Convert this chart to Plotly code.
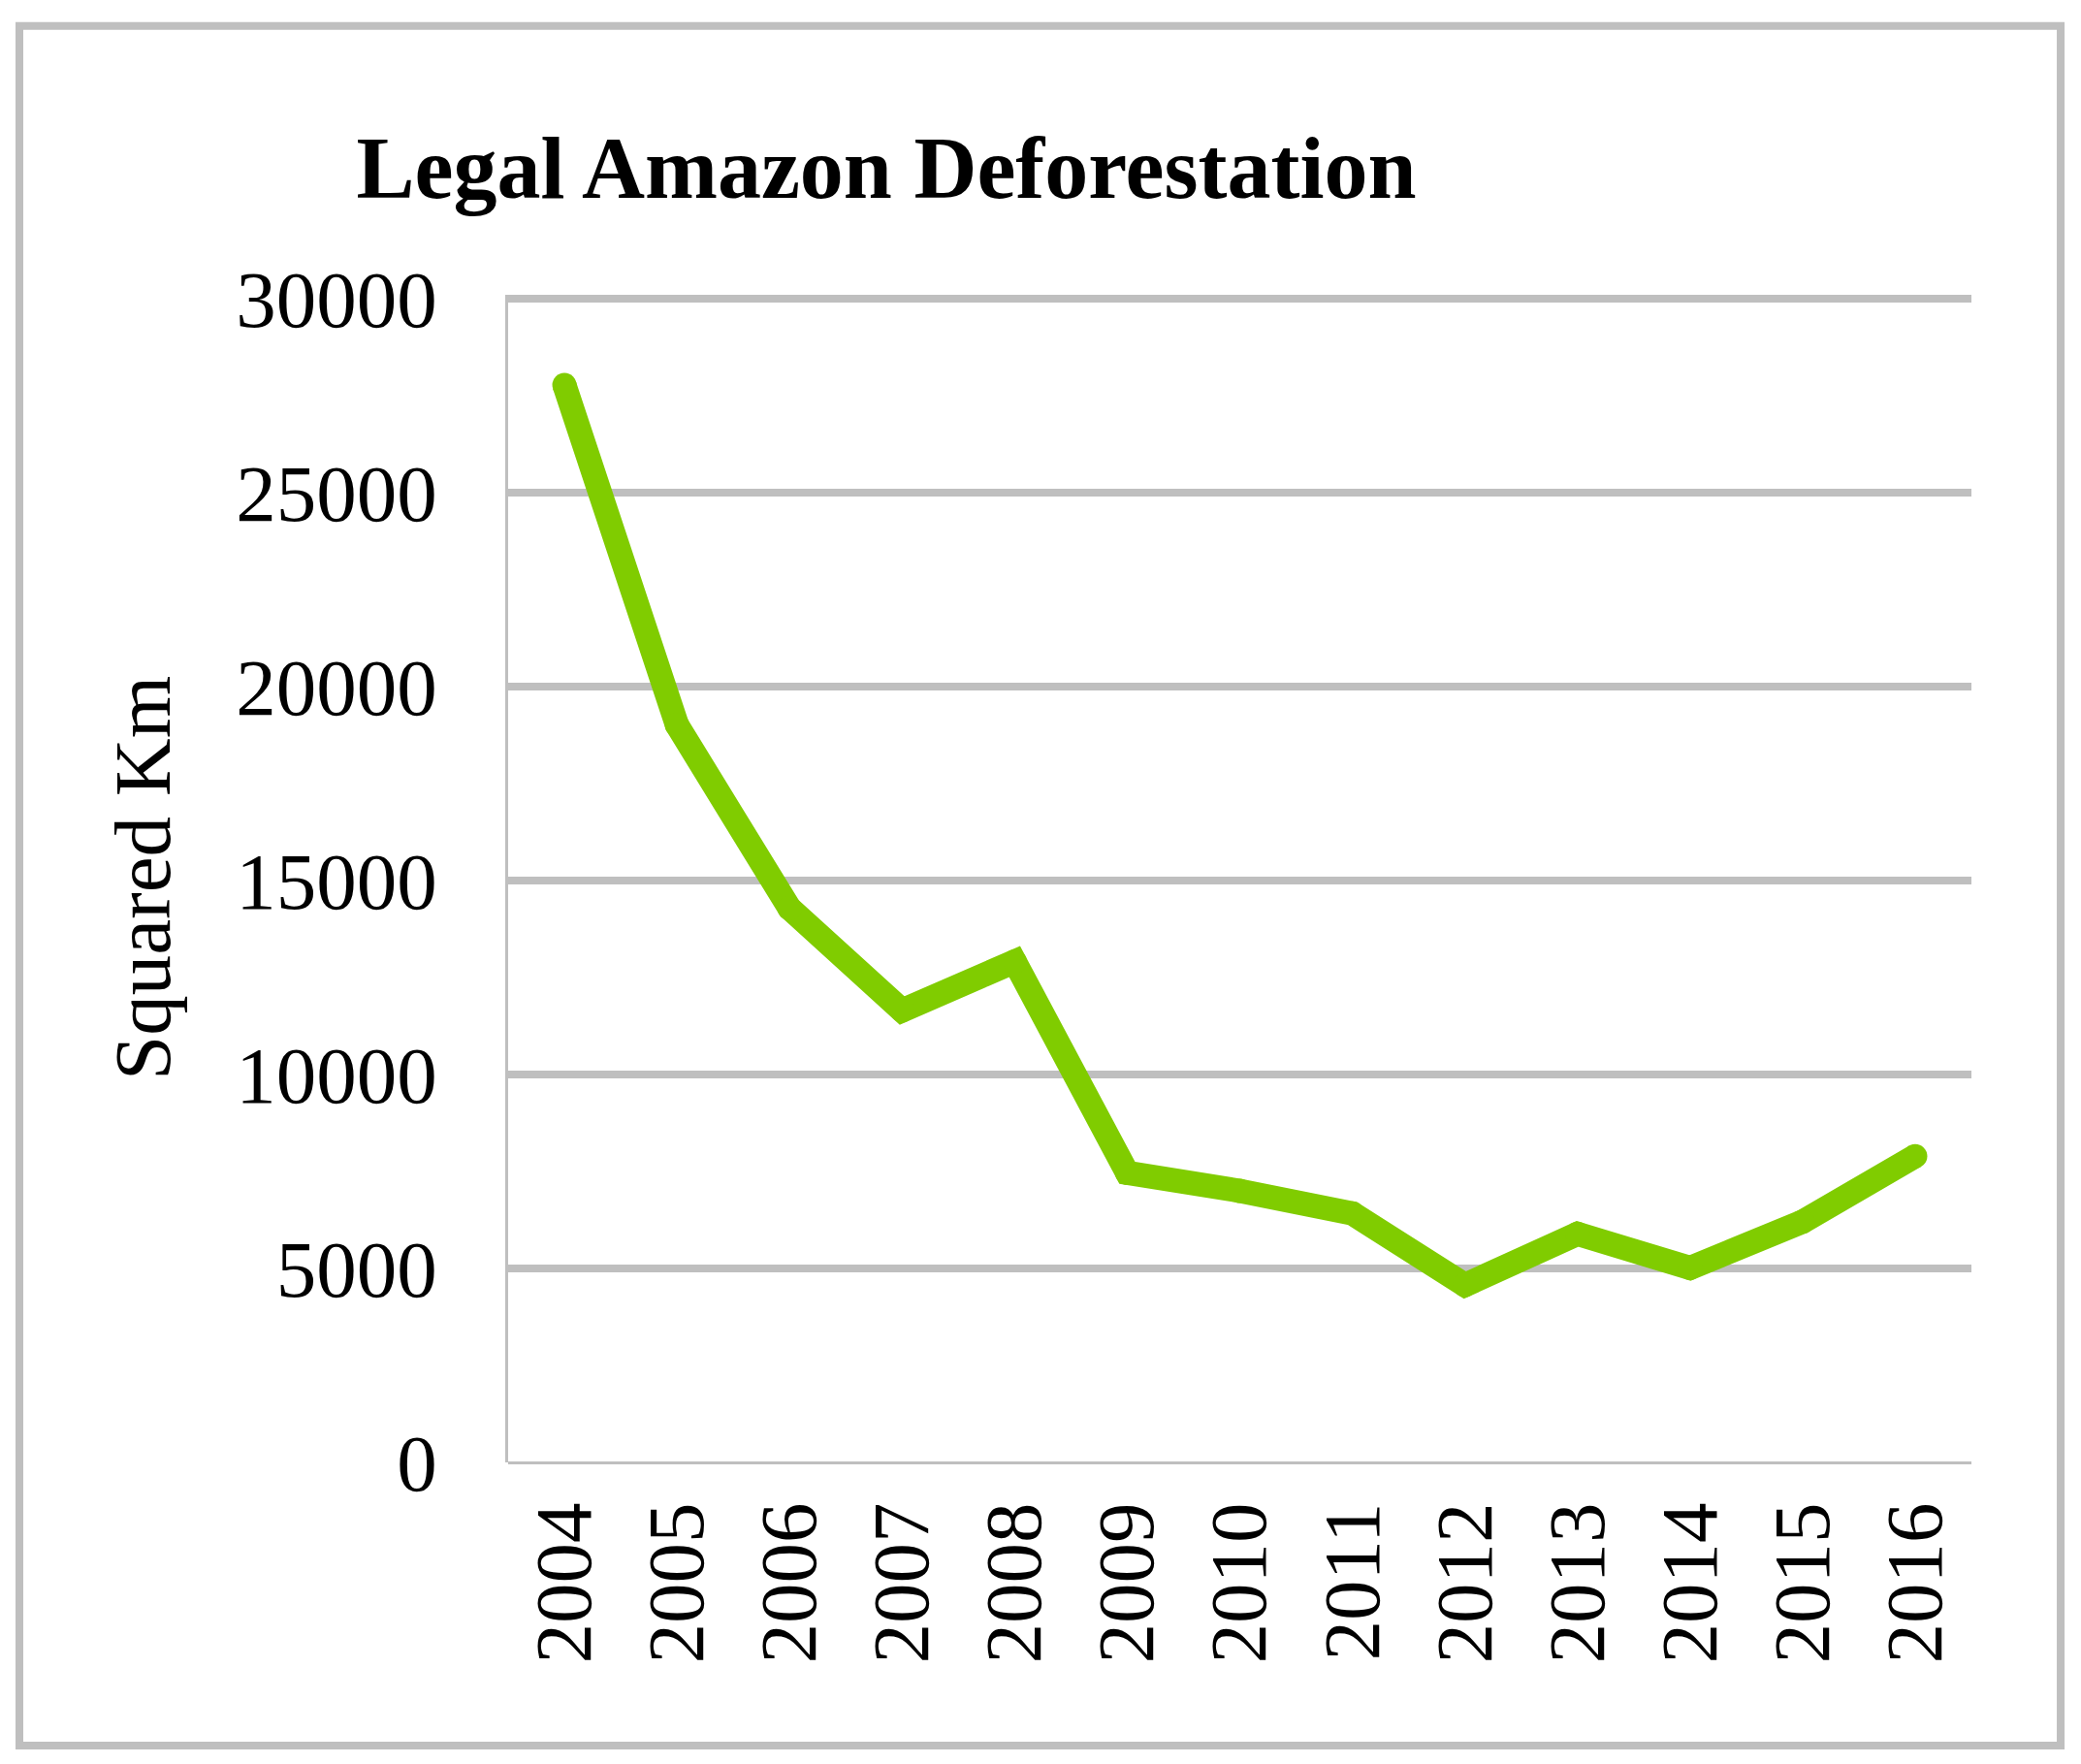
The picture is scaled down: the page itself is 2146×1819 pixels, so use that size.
import plotly.graph_objects as go

# deforestation in the Legal Amazon, square km per year
years = ['2004', '2005', '2006', '2007', '2008', '2009', '2010',
         '2011', '2012', '2013', '2014', '2015', '2016']
area_km2 = [27772, 19014, 14286, 11651, 12911, 7464, 7000,
            6418, 4571, 5891, 5012, 6207, 7893]
y_ticks = [0, 5000, 10000, 15000, 20000, 25000, 30000]
y_tick_text = ['0', '5000', '10000', '15000', '20000', '25000', '30000']

font_name = 'Liberation Serif'
grey = '#BFBFBF'
green = '#80CC00'

fig = go.Figure()
# markers the same size as the line width give round joins and ends
fig.add_trace(go.Scatter(x=years, y=area_km2, mode='lines+markers',
                         line=dict(color=green, width=25),
                         marker=dict(color=green, size=25, line=dict(width=0)),
                         showlegend=False))

fig.update_layout(
    width=2146, height=1819,
    margin=dict(l=516, r=121, t=296, b=319),
    plot_bgcolor='white', paper_bgcolor='white',
    font=dict(family=font_name, size=83, color='black'),
    title=dict(text='<b>Legal Amazon Deforestation</b>',
               font=dict(family=font_name, size=90, color='black'),
               x=906 / 2146, xref='container', xanchor='center',
               y=1 - 164 / 1819, yref='container', yanchor='middle'),
)

fig.update_xaxes(type='category', categoryorder='array', categoryarray=years,
                 range=[-0.5, len(years) - 0.5],
                 tickangle=-90, ticks='', showgrid=False,
                 showline=False, tickfont=dict(size=83),
                 ticklabelstandoff=24)
# range a touch above 30000 so the top grid line is still drawn
fig.update_yaxes(range=[0, 30100], tickvals=y_ticks, ticktext=y_tick_text,
                 ticks='', showgrid=True, gridcolor=grey, gridwidth=8,
                 zeroline=True, zerolinecolor=grey, zerolinewidth=2.5,
                 showline=True, linecolor=grey, linewidth=2.5,
                 tickfont=dict(size=83), ticklabelstandoff=54)

fig.add_annotation(text='Squared Km', textangle=-90, showarrow=False,
                   xref='paper', yref='paper', x=(139 - 516) / 1509, y=0.5,
                   xanchor='center', yanchor='middle',
                   font=dict(family=font_name, size=83, color='black'))

# frame round the whole chart
fig.add_shape(type='rect', xref='paper', yref='paper',
              x0=-0.334, x1=1.061, y0=-0.2425, y1=1.2302,
              line=dict(color=grey, width=8), fillcolor='rgba(0,0,0,0)')

fig.write_html("out.html")
